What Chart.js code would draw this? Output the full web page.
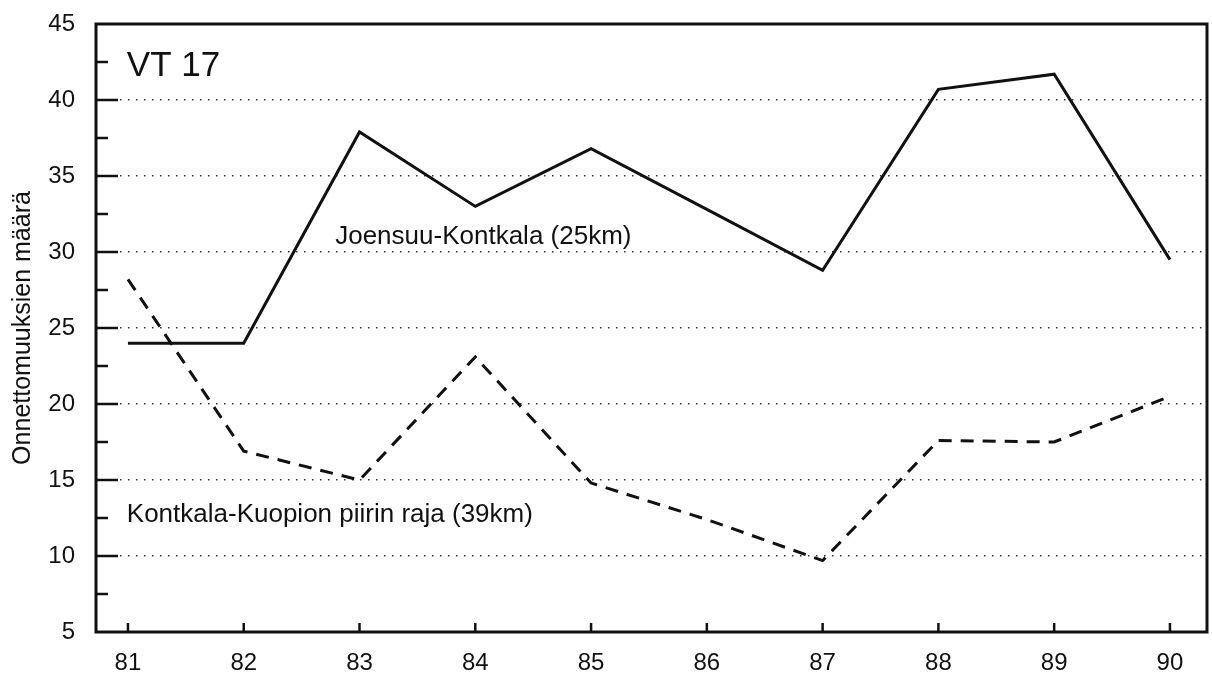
<!DOCTYPE html>
<html>
<head>
<meta charset="utf-8">
<script src="https://cdn.jsdelivr.net/npm/chart.js@4.4.1/dist/chart.umd.min.js"></script>
<style>
  html, body { margin: 0; padding: 0; background: #fff; }
  #wrap { width: 1212px; height: 683px; }
</style>
</head>
<body>
<div id="wrap"><canvas id="chart" width="1212" height="683"></canvas></div>
<script>
// vuodet ja onnettomuusmäärät (luettu kuvasta)
const years = [81, 82, 83, 84, 85, 86, 87, 88, 89, 90];
const joensuuKontkala = [24, 24, 37.9, 33, 36.8, 32.8, 28.8, 40.7, 41.7, 29.5];
const kontkalaKuopio = [28.2, 16.9, 15, 23.1, 14.8, 12.4, 9.7, 17.6, 17.5, 20.5];
const yTicks = [5, 10, 15, 20, 25, 30, 35, 40, 45];

const fontFamily = '"Liberation Sans", Arial, Helvetica, sans-serif';
const ink = '#111';

const toPoints = (vals) => vals.map((v, i) => ({ x: years[i], y: v }));

// kehys, sisäänpäin osoittavat tikit ja tekstit
const decorations = {
    id: 'decorations',
    afterDatasetsDraw(chart) {
        const { ctx, chartArea: a, scales: { x, y } } = chart;
        ctx.save();
        ctx.strokeStyle = ink;
        ctx.lineCap = 'butt';

        // y-akselin tikit
        ctx.lineWidth = 2.5;
        yTicks.forEach(v => {
            if (v === 5 || v === 45) return;
            const py = y.getPixelForValue(v);
            ctx.beginPath();
            ctx.moveTo(a.left, py);
            ctx.lineTo(a.left + 22, py);
            ctx.stroke();
        });
        for (let v = 7.5; v < 45; v += 5) {
            const py = y.getPixelForValue(v);
            ctx.beginPath();
            ctx.moveTo(a.left, py);
            ctx.lineTo(a.left + 12, py);
            ctx.stroke();
        }
        // x-akselin tikit
        years.forEach(yr => {
            const px = x.getPixelForValue(yr);
            ctx.beginPath();
            ctx.moveTo(px, a.bottom);
            ctx.lineTo(px, a.bottom - 9);
            ctx.stroke();
        });

        // kehys
        ctx.lineWidth = 3;
        ctx.strokeRect(a.left, a.top, a.right - a.left, a.bottom - a.top);

        // tekstit
        ctx.fillStyle = ink;
        ctx.textBaseline = 'middle';
        ctx.textAlign = 'left';
        ctx.font = '35px ' + fontFamily;
        ctx.fillText('VT 17', x.getPixelForValue(80.99), y.getPixelForValue(42.2));
        ctx.font = '26px ' + fontFamily;
        ctx.fillText('Joensuu-Kontkala (25km)', x.getPixelForValue(82.79), y.getPixelForValue(31.0));
        ctx.fillText('Kontkala-Kuopion piirin raja (39km)', x.getPixelForValue(80.99), y.getPixelForValue(12.7));
        ctx.restore();
    }
};

new Chart(document.getElementById('chart'), {
    type: 'line',
    data: {
        datasets: [{
            label: 'Joensuu-Kontkala (25km)',
            data: toPoints(joensuuKontkala),
            borderColor: ink,
            borderWidth: 3,
            pointRadius: 0,
            tension: 0,
            fill: false
        }, {
            label: 'Kontkala-Kuopion piirin raja (39km)',
            data: toPoints(kontkalaKuopio),
            borderColor: ink,
            borderWidth: 3,
            borderDash: [13, 9],
            pointRadius: 0,
            tension: 0,
            fill: false
        }]
    },
    options: {
        responsive: false,
        animation: false,
        layout: { padding: { left: 0, top: 24, right: 5, bottom: 0 } },
        plugins: {
            legend: { display: false },
            tooltip: { enabled: false }
        },
        scales: {
            x: {
                type: 'linear',
                min: 80.724,
                max: 90.32,
                afterBuildTicks: (scale) => { scale.ticks = years.map(v => ({ value: v })); },
                afterFit: (scale) => {
                    scale.height = 51;
                    scale.paddingLeft = 0;
                    scale.paddingRight = 0;
                },
                border: { display: false },
                grid: { display: false, drawTicks: false },
                ticks: {
                    padding: 17,
                    color: ink,
                    font: { family: fontFamily, size: 24 },
                    callback: (v) => String(v)
                }
            },
            y: {
                min: 5,
                max: 45,
                afterBuildTicks: (scale) => { scale.ticks = yTicks.map(v => ({ value: v })); },
                afterFit: (scale) => {
                    scale.width = 96;
                    scale.paddingTop = 0;
                    scale.paddingBottom = 0;
                },
                border: { display: false, dash: [1.5, 6.5] },
                grid: {
                    drawTicks: false,
                    color: (c) => (c.tick && (c.tick.value === 5 || c.tick.value === 45)) ? 'rgba(0,0,0,0)' : '#333',
                    lineWidth: 1.5
                },
                ticks: {
                    padding: 21,
                    color: ink,
                    font: { family: fontFamily, size: 24 }
                },
                title: {
                    display: true,
                    text: 'Onnettomuuksien määrä',
                    color: ink,
                    font: { family: fontFamily, size: 25 },
                    padding: { top: 8, bottom: 0 }
                }
            }
        }
    },
    plugins: [decorations]
});
</script>
</body>
</html>
